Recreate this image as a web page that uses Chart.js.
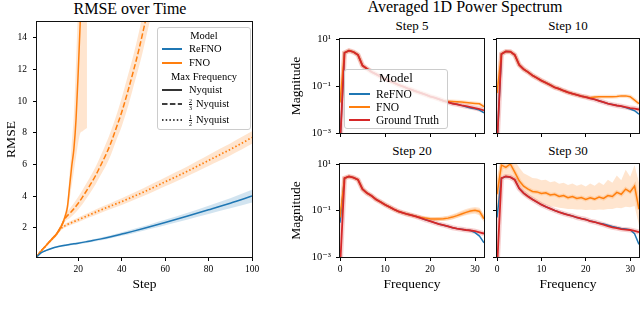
<!DOCTYPE html>
<html>
<head>
<meta charset="utf-8">
<script src="https://cdn.jsdelivr.net/npm/chart.js@4.4.0/dist/chart.umd.min.js"></script>
<style>
  body { margin: 0; width: 640px; height: 309px; background: #fff; position: relative; overflow: hidden;
         font-family: "Liberation Serif", "DejaVu Serif", serif; color: #000; }
  .box { position: absolute; }
  .ttl { position: absolute; white-space: nowrap; transform: translateX(-50%); }
  .leg { position: absolute; border: 1px solid #ccc; border-radius: 3px; background: rgba(255,255,255,0.8);
         box-sizing: border-box; z-index: 5; }
  .row { position: absolute; left: 0; right: 0; height: 14px; line-height: 14px; white-space: nowrap; }
  .row svg { position: absolute; top: 5px; }
  .row .tx { position: absolute; }
  .hd { text-align: center; }
  .fr { display: inline-block; vertical-align: middle; font-size: 6px; line-height: 6px; text-align: center; margin-right: 4px; }
  .fr span { display: block; }
  .fr span:first-child { border-bottom: 0.6px solid #000; }
</style>
</head>
<body>

<div class="ttl" style="left:130px;top:-1px;font-size:16px;line-height:20px">RMSE over Time</div>
<div class="ttl" style="left:465px;top:-3px;font-size:16px;line-height:20px">Averaged 1D Power Spectrum</div>
<div class="ttl" style="left:412px;top:17px;font-size:13px;line-height:17px">Step 5</div>
<div class="ttl" style="left:568px;top:17px;font-size:13px;line-height:17px">Step 10</div>
<div class="ttl" style="left:412px;top:142px;font-size:13px;line-height:17px">Step 20</div>
<div class="ttl" style="left:568px;top:142px;font-size:13px;line-height:17px">Step 30</div>

<div class="box" style="left:0;top:0;width:260px;height:309px"><canvas id="rmse"></canvas></div>
<div class="box" style="left:280px;top:30px;width:210px;height:110px"><canvas id="s5"></canvas></div>
<div class="box" style="left:490px;top:30px;width:150px;height:110px"><canvas id="s10"></canvas></div>
<div class="box" style="left:280px;top:150px;width:210px;height:159px"><canvas id="s20"></canvas></div>
<div class="box" style="left:490px;top:150px;width:150px;height:159px"><canvas id="s30"></canvas></div>

<!-- legend of the RMSE panel -->
<div class="leg" style="left:157px;top:27px;width:94px;height:103px;font-size:10.5px">
  <div class="row hd" style="top:1px">Model</div>
  <div class="row" style="top:14px"><svg width="20" height="4" style="left:4px"><line x1="0" y1="2" x2="20" y2="2" stroke="#1f77b4" stroke-width="2"/></svg><span class="tx" style="left:31px">ReFNO</span></div>
  <div class="row" style="top:28px"><svg width="20" height="4" style="left:4px"><line x1="0" y1="2" x2="20" y2="2" stroke="#ff7f0e" stroke-width="2"/></svg><span class="tx" style="left:31px">FNO</span></div>
  <div class="row hd" style="top:42px">Max Frequency</div>
  <div class="row" style="top:55px"><svg width="20" height="4" style="left:4px"><line x1="0" y1="2" x2="20" y2="2" stroke="#000" stroke-width="1.6"/></svg><span class="tx" style="left:31px">Nyquist</span></div>
  <div class="row" style="top:69px"><svg width="20" height="4" style="left:4px"><line x1="0" y1="2" x2="20" y2="2" stroke="#000" stroke-width="1.6" stroke-dasharray="5.5 2.4"/></svg><span class="tx" style="left:31px"><span class="fr"><span>2</span><span>3</span></span>Nyquist</span></div>
  <div class="row" style="top:85px"><svg width="20" height="4" style="left:4px"><line x1="0" y1="2" x2="20" y2="2" stroke="#000" stroke-width="1.6" stroke-dasharray="1.5 2.2"/></svg><span class="tx" style="left:31px"><span class="fr"><span>1</span><span>2</span></span>Nyquist</span></div>
</div>

<!-- legend of the spectrum panels -->
<div class="leg" style="left:344px;top:69px;width:104px;height:60px;font-size:11.5px">
  <div class="row hd" style="top:1px;font-size:13px">Model</div>
  <div class="row" style="top:17px"><svg width="21" height="4" style="left:4px"><line x1="0" y1="2" x2="21" y2="2" stroke="#1f77b4" stroke-width="2"/></svg><span class="tx" style="left:31px">ReFNO</span></div>
  <div class="row" style="top:30px"><svg width="21" height="4" style="left:4px"><line x1="0" y1="2" x2="21" y2="2" stroke="#ff7f0e" stroke-width="2"/></svg><span class="tx" style="left:31px">FNO</span></div>
  <div class="row" style="top:43px"><svg width="21" height="4" style="left:4px"><line x1="0" y1="2" x2="21" y2="2" stroke="#d62728" stroke-width="2"/></svg><span class="tx" style="left:31px">Ground Truth</span></div>
</div>

<script>
// ---- RMSE over time ----
const refnoSteps = [1, 3, 5, 8, 10, 12, 14, 16, 18, 20, 25, 30, 35, 40, 45, 50, 55, 60, 70, 80, 90, 100];
const refnoRmse   = [0.18, 0.42, 0.55, 0.7, 0.78, 0.84, 0.89, 0.94, 0.98, 1.02, 1.15, 1.28, 1.43, 1.6, 1.77, 1.95, 2.14, 2.33, 2.72, 3.13, 3.55, 4.0];
const refnoRmseHi = [0.2, 0.45, 0.59, 0.75, 0.83, 0.9, 0.95, 1.0, 1.05, 1.09, 1.23, 1.37, 1.53, 1.71, 1.9, 2.09, 2.3, 2.5, 2.93, 3.39, 3.87, 4.4];
const refnoRmseLo = [0.16, 0.39, 0.51, 0.65, 0.73, 0.78, 0.83, 0.88, 0.91, 0.95, 1.07, 1.19, 1.33, 1.49, 1.64, 1.81, 1.98, 2.16, 2.51, 2.87, 3.23, 3.6];

const fnoFullSteps = [1, 3, 5, 8, 10, 12, 13, 14, 15, 16, 17, 18, 19, 20, 21, 22, 23, 24];
const fnoFullRmse   = [0.2, 0.55, 0.85, 1.3, 1.6, 2.05, 2.35, 2.75, 3.3, 4.6, 5.9, 7.0, 8.9, 11.9, 15.3, 18.5, 21.5, 24];
const fnoFullRmseHi = [0.22, 0.6, 0.92, 1.4, 1.72, 2.2, 2.5, 3.0, 3.7, 5.4, 7.3, 9.2, 12.5, 16.5, 21, 25, 29, 33];
const fnoFullRmseLo = [0.18, 0.5, 0.78, 1.2, 1.48, 1.9, 2.2, 2.5, 2.9, 3.8, 4.7, 5.6, 6.5, 7.4, 8.0, 8.1, 8.2, 8.3];

const fnoTwoThirdSteps = [1, 3, 5, 8, 10, 12, 14, 16, 18, 20, 22, 25, 28, 30, 33, 35, 38, 40, 43, 45, 48, 50, 52, 55];
const fnoTwoThirdRmse   = [0.2, 0.55, 0.85, 1.3, 1.6, 2.05, 2.6, 2.9, 3.2, 3.55, 3.95, 4.6, 5.3, 5.85, 6.7, 7.35, 8.5, 9.3, 10.7, 11.7, 13.3, 14.5, 15.7, 17.5];
const fnoTwoThirdRmseHi = [0.22, 0.6, 0.92, 1.4, 1.72, 2.2, 2.8, 3.2, 3.55, 3.95, 4.4, 5.1, 5.85, 6.45, 7.4, 8.1, 9.3, 10.2, 11.7, 12.7, 14.4, 15.7, 16.9, 18.8];
const fnoTwoThirdRmseLo = [0.18, 0.5, 0.78, 1.2, 1.48, 1.9, 2.4, 2.6, 2.85, 3.15, 3.5, 4.1, 4.75, 5.25, 6.0, 6.6, 7.7, 8.4, 9.7, 10.7, 12.2, 13.3, 14.5, 16.2];

const fnoHalfSteps = [1, 3, 5, 8, 10, 12, 15, 20, 25, 30, 35, 40, 45, 50, 55, 60, 65, 70, 75, 80, 85, 90, 95, 100];
const fnoHalfRmse   = [0.2, 0.55, 0.85, 1.3, 1.6, 1.95, 2.2, 2.5, 2.8, 3.1, 3.38, 3.65, 3.95, 4.25, 4.57, 4.9, 5.22, 5.55, 5.9, 6.25, 6.6, 6.95, 7.32, 7.7];
const fnoHalfRmseHi = [0.22, 0.6, 0.92, 1.4, 1.7, 2.07, 2.33, 2.65, 2.96, 3.28, 3.57, 3.86, 4.18, 4.5, 4.84, 5.18, 5.52, 5.86, 6.23, 6.6, 6.97, 7.33, 7.72, 8.1];
const fnoHalfRmseLo = [0.18, 0.5, 0.78, 1.2, 1.5, 1.83, 2.07, 2.35, 2.64, 2.92, 3.19, 3.44, 3.72, 4.0, 4.3, 4.62, 4.92, 5.24, 5.57, 5.9, 6.23, 6.57, 6.92, 7.3];

const rmseTicks = [2, 4, 6, 8, 10, 12, 14];
const stepTicks = [20, 40, 60, 80, 100];

// ---- power spectra ----
const freqs = [0, 1, 2, 3, 4, 5, 6, 7, 8, 9, 10, 11, 12, 13, 14, 15, 16, 17, 18, 19, 20, 21, 22, 23, 24, 25, 26, 27, 28, 29, 30, 31, 32];

const gtStep5    = [3e-4, 2.6, 3.2, 2.8, 2.1, 0.74, 0.54, 0.4, 0.32, 0.25, 0.2, 0.166, 0.138, 0.112, 0.095, 0.079, 0.068, 0.058, 0.05, 0.043, 0.036, 0.032, 0.0275, 0.0234, 0.0204, 0.018, 0.0166, 0.015, 0.0138, 0.0126, 0.0115, 0.0105, 0.0091];
const refnoStep5 = [3e-4, 2.6, 3.2, 2.8, 2.1, 0.74, 0.54, 0.4, 0.32, 0.25, 0.2, 0.166, 0.138, 0.112, 0.095, 0.079, 0.068, 0.058, 0.05, 0.043, 0.036, 0.032, 0.0275, 0.0234, 0.0204, 0.018, 0.0166, 0.015, 0.0132, 0.0117, 0.0107, 0.0095, 0.0072];
const fnoStep5   = [0.02, 2.6, 3.2, 2.8, 2.1, 0.74, 0.54, 0.4, 0.32, 0.25, 0.2, 0.166, 0.138, 0.112, 0.095, 0.079, 0.068, 0.058, 0.05, 0.043, 0.036, 0.032, 0.0275, 0.0234, 0.0219, 0.0219, 0.0214, 0.0209, 0.02, 0.019, 0.0182, 0.0174, 0.0132];

const gtStep10    = [3e-4, 2.3, 2.95, 2.9, 2.1, 0.79, 0.52, 0.39, 0.28, 0.22, 0.17, 0.138, 0.11, 0.087, 0.076, 0.063, 0.054, 0.047, 0.042, 0.037, 0.034, 0.03, 0.027, 0.0234, 0.0204, 0.0178, 0.0162, 0.0148, 0.0138, 0.0126, 0.0115, 0.011, 0.01];
const refnoStep10 = [3e-4, 2.3, 2.95, 2.9, 2.1, 0.79, 0.52, 0.39, 0.28, 0.22, 0.17, 0.138, 0.11, 0.087, 0.076, 0.063, 0.054, 0.047, 0.042, 0.037, 0.034, 0.03, 0.027, 0.0234, 0.0204, 0.0178, 0.0162, 0.0148, 0.0138, 0.012, 0.0105, 0.0089, 0.0063];
const fnoStep10   = [0.05, 2.3, 2.95, 2.9, 2.1, 0.79, 0.52, 0.39, 0.28, 0.22, 0.17, 0.138, 0.11, 0.087, 0.076, 0.063, 0.054, 0.047, 0.042, 0.037, 0.034, 0.032, 0.034, 0.035, 0.035, 0.035, 0.035, 0.036, 0.038, 0.038, 0.035, 0.025, 0.0178];

const gtStep20    = [3e-4, 2.45, 2.9, 2.6, 2.1, 0.83, 0.56, 0.43, 0.3, 0.234, 0.178, 0.141, 0.112, 0.091, 0.079, 0.069, 0.062, 0.055, 0.047, 0.04, 0.035, 0.03, 0.026, 0.0234, 0.0209, 0.0182, 0.0166, 0.0155, 0.0145, 0.0138, 0.0129, 0.0115, 0.0102];
const refnoStep20 = [0.03, 2.45, 2.9, 2.6, 2.1, 0.83, 0.56, 0.43, 0.3, 0.234, 0.178, 0.141, 0.112, 0.091, 0.079, 0.069, 0.062, 0.055, 0.047, 0.04, 0.035, 0.03, 0.026, 0.0234, 0.0209, 0.0182, 0.0166, 0.0155, 0.0145, 0.0138, 0.0112, 0.0079, 0.0041];
const fnoStep20   = [0.05, 2.45, 2.9, 2.6, 2.1, 0.83, 0.56, 0.43, 0.3, 0.234, 0.178, 0.141, 0.112, 0.091, 0.079, 0.069, 0.062, 0.055, 0.05, 0.047, 0.044, 0.043, 0.043, 0.044, 0.047, 0.052, 0.06, 0.071, 0.083, 0.095, 0.102, 0.091, 0.044];
const fnoStep20BandFreqs = [16, 17, 18, 19, 20, 21, 22, 23, 24, 25, 26, 27, 28, 29, 30, 31, 32];
const fnoStep20Hi = [0.065, 0.06, 0.056, 0.054, 0.051, 0.051, 0.052, 0.055, 0.06, 0.069, 0.081, 0.098, 0.115, 0.132, 0.141, 0.132, 0.063];
const fnoStep20Lo = [0.059, 0.05, 0.045, 0.041, 0.037, 0.035, 0.035, 0.035, 0.037, 0.041, 0.047, 0.055, 0.063, 0.069, 0.072, 0.063, 0.032];

const gtStep30    = [3e-4, 2.45, 2.9, 2.7, 2.1, 0.89, 0.56, 0.4, 0.3, 0.23, 0.178, 0.145, 0.12, 0.1, 0.085, 0.074, 0.065, 0.058, 0.05, 0.045, 0.041, 0.035, 0.032, 0.028, 0.0245, 0.0214, 0.019, 0.0174, 0.0158, 0.0151, 0.0145, 0.0132, 0.0117];
const refnoStep30 = [0.05, 2.45, 2.9, 2.7, 2.1, 0.89, 0.56, 0.4, 0.3, 0.23, 0.178, 0.145, 0.12, 0.1, 0.085, 0.074, 0.065, 0.058, 0.05, 0.045, 0.041, 0.035, 0.032, 0.028, 0.026, 0.023, 0.0205, 0.0185, 0.017, 0.016, 0.0148, 0.01, 0.0035];
const fnoStep30   = [0.5, 8.9, 7.1, 10, 4.5, 1.9, 1.12, 0.83, 0.66, 0.63, 0.54, 0.58, 0.47, 0.5, 0.4, 0.44, 0.355, 0.4, 0.33, 0.36, 0.3, 0.355, 0.31, 0.38, 0.33, 0.44, 0.4, 0.6, 0.5, 0.83, 0.63, 1.12, 0.112];
const fnoStep30Hi = [2.5, 20, 20, 20, 14, 7.1, 4.0, 3.2, 2.5, 2.4, 2.0, 2.1, 1.66, 1.82, 1.41, 1.58, 1.26, 1.45, 1.17, 1.35, 1.07, 1.45, 1.15, 1.66, 1.26, 2.1, 1.58, 3.2, 2.0, 5.6, 2.8, 8.9, 1.58];
const fnoStep30Lo = [0.05, 3.5, 2.8, 3.2, 1.58, 0.79, 0.45, 0.34, 0.27, 0.23, 0.19, 0.174, 0.151, 0.145, 0.132, 0.126, 0.117, 0.115, 0.11, 0.11, 0.105, 0.107, 0.105, 0.11, 0.107, 0.117, 0.115, 0.132, 0.126, 0.145, 0.138, 0.158, 0.0224];

const freqTicks = [0, 10, 20, 30];
const magTicks = [1e-3, 1e-1, 1e1];
const magLabels = ['10\u207B\u00B3', '10\u207B\u00B9', '10\u00B9'];

// ---- colours ----
const BLUE = '#1f77b4', ORANGE = '#ff7f0e', RED = '#d62728';
const BLUE_FILL = 'rgba(31,119,180,0.2)', ORANGE_FILL = 'rgba(255,127,14,0.2)';

Chart.defaults.font.family = '"Liberation Serif", "DejaVu Serif", serif';
Chart.defaults.color = '#000';
Chart.defaults.animation = false;

function zip(xs, ys) {
  return xs.map((x, i) => ({ x: x, y: ys[i] }));
}

// fixed axis box so the plot areas land where the reference has them
function fixSize(size, horizontal) {
  return function (scale) {
    if (horizontal) scale.height = size; else scale.width = size;
    scale.paddingLeft = 0; scale.paddingRight = 0;
    scale.paddingTop = 0; scale.paddingBottom = 0;
  };
}

function setTicks(values) {
  return function (scale) { scale.ticks = values.map(v => ({ value: v })); };
}

// black frame around the plot area (matplotlib spines)
const framePlugin = {
  id: 'frame',
  afterDraw(chart) {
    const { ctx, chartArea: a } = chart;
    const l = Math.round(a.left) - 0.5, t = Math.round(a.top) - 0.5;
    const r = Math.round(a.right) + 0.5, b = Math.round(a.bottom) + 0.5;
    ctx.save();
    ctx.strokeStyle = '#111';
    ctx.lineWidth = 1;
    ctx.strokeRect(l, t, r - l, b - t);
    ctx.restore();
  }
};

const tickGrid = { drawOnChartArea: false, drawTicks: true, tickLength: 4, color: '#000', lineWidth: 1 };
const tickFont = { size: 9.5 };
const logTickFont = { size: 10.5 };
const titleFont = { size: 13.5 };

function line(xs, ys, color, dash, width) {
  return {
    data: zip(xs, ys), borderColor: color, borderWidth: width || 1.5, borderDash: dash || [],
    pointRadius: 0, fill: false, cubicInterpolationMode: 'monotone'
  };
}
function band(xs, hi, lo, color) {
  return [
    { data: zip(xs, hi), borderWidth: 0, pointRadius: 0, fill: false, cubicInterpolationMode: 'monotone', backgroundColor: color },
    { data: zip(xs, lo), borderWidth: 0, pointRadius: 0, fill: '-1', cubicInterpolationMode: 'monotone', backgroundColor: color }
  ];
}

// RMSE chart
new Chart(document.getElementById('rmse'), {
  type: 'line',
  data: {
    datasets: [
      line(refnoSteps, refnoRmse, BLUE),
      line(fnoFullSteps, fnoFullRmse, ORANGE),
      line(fnoTwoThirdSteps, fnoTwoThirdRmse, ORANGE, [5.5, 2.4]),
      line(fnoHalfSteps, fnoHalfRmse, ORANGE, [1.5, 2.2], 1.7),
      ...band(refnoSteps, refnoRmseHi, refnoRmseLo, BLUE_FILL),
      ...band(fnoFullSteps, fnoFullRmseHi, fnoFullRmseLo, ORANGE_FILL),
      ...band(fnoTwoThirdSteps, fnoTwoThirdRmseHi, fnoTwoThirdRmseLo, ORANGE_FILL),
      ...band(fnoHalfSteps, fnoHalfRmseHi, fnoHalfRmseLo, ORANGE_FILL)
    ]
  },
  options: {
    responsive: true, maintainAspectRatio: false,
    layout: { padding: { top: 22, right: 8, left: 0, bottom: 0 }, autoPadding: false },
    plugins: { legend: { display: false }, tooltip: { enabled: false } },
    scales: {
      x: {
        type: 'linear', min: 1, max: 100,
        afterBuildTicks: setTicks(stepTicks), afterFit: fixSize(52, true),
        grid: tickGrid, border: { display: false },
        ticks: { font: tickFont, padding: 3, maxRotation: 0 },
        title: { display: true, text: 'Step', font: titleFont, padding: { top: 0, bottom: 16 } }
      },
      y: {
        type: 'linear', min: 0.15, max: 15,
        afterBuildTicks: setTicks(rmseTicks), afterFit: fixSize(37, false),
        grid: tickGrid, border: { display: false },
        ticks: { font: tickFont, padding: 6 },
        title: { display: true, text: 'RMSE', font: titleFont, padding: { top: 3, bottom: 0 } }
      }
    }
  },
  plugins: [framePlugin]
});

// spectrum panels
function spectrum(id, gt, refno, fno, bandSets, o) {
  const datasets = [
    { data: zip(freqs, gt), borderColor: RED, borderWidth: 1.8, pointRadius: 0, fill: false },
    { data: zip(freqs, fno), borderColor: ORANGE, borderWidth: 1.5, pointRadius: 0, fill: false },
    { data: zip(freqs, refno), borderColor: BLUE, borderWidth: 1.5, pointRadius: 0, fill: false },
    { data: zip(freqs, gt), borderColor: 'rgba(214,39,40,0.22)', borderWidth: 5, pointRadius: 0, fill: false },
    { data: zip(freqs, fno), borderColor: 'rgba(255,127,14,0.2)', borderWidth: 4, pointRadius: 0, fill: false },
    ...bandSets
  ];
  new Chart(document.getElementById(id), {
    type: 'line',
    data: { datasets: datasets },
    options: {
      responsive: true, maintainAspectRatio: false,
      layout: { padding: o.pad, autoPadding: false },
      plugins: { legend: { display: false }, tooltip: { enabled: false } },
      scales: {
        x: {
          type: 'linear', min: 0, max: 32,
          afterBuildTicks: setTicks(freqTicks), afterFit: fixSize(o.xh, true),
          grid: tickGrid, border: { display: false },
          ticks: { font: tickFont, padding: 3, maxRotation: 0, callback: v => o.xLabels ? String(v) : '' },
          title: { display: o.xLabels, text: 'Frequency', font: titleFont, padding: { top: 0, bottom: 16 } }
        },
        y: {
          type: 'logarithmic', min: 1e-3, max: 10,
          afterBuildTicks: setTicks(magTicks), afterFit: fixSize(o.yw, false),
          grid: tickGrid, border: { display: false },
          ticks: { font: logTickFont, padding: 5, callback: v => o.yLabels ? magLabels[magTicks.indexOf(v)] : '' },
          title: { display: o.yLabels, text: 'Magnitude', font: titleFont, padding: { top: 8, bottom: 0 } }
        }
      }
    },
    plugins: [framePlugin]
  });
}

function specBand(xs, hi, lo) {
  return [
    { data: zip(xs, hi), borderWidth: 0, pointRadius: 0, fill: false, backgroundColor: ORANGE_FILL },
    { data: zip(xs, lo), borderWidth: 0, pointRadius: 0, fill: '-1', backgroundColor: ORANGE_FILL }
  ];
}

spectrum('s5', gtStep5, refnoStep5, fnoStep5, [],
  { pad: { top: 9, right: 6, left: 0, bottom: 0 }, xh: 7, yw: 60, xLabels: false, yLabels: true });
spectrum('s10', gtStep10, refnoStep10, fnoStep10, [],
  { pad: { top: 9, right: 1, left: 0, bottom: 0 }, xh: 7, yw: 7, xLabels: false, yLabels: false });
spectrum('s20', gtStep20, refnoStep20, fnoStep20, specBand(fnoStep20BandFreqs, fnoStep20Hi, fnoStep20Lo),
  { pad: { top: 14, right: 6, left: 0, bottom: 0 }, xh: 52, yw: 60, xLabels: true, yLabels: true });
spectrum('s30', gtStep30, refnoStep30, fnoStep30, specBand(freqs, fnoStep30Hi, fnoStep30Lo),
  { pad: { top: 14, right: 1, left: 0, bottom: 0 }, xh: 52, yw: 7, xLabels: true, yLabels: false });
</script>
</body>
</html>
